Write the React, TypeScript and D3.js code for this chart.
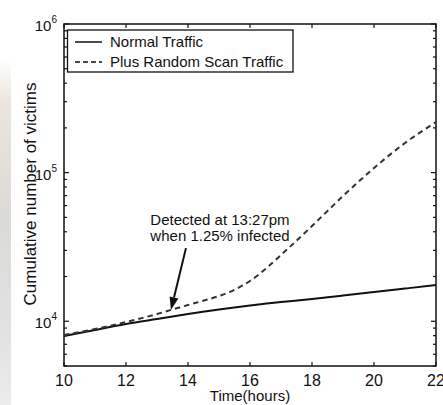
import React from "react";
import * as d3 from "d3";

// hours of the day
const hours = [10, 11, 12, 13, 14, 15, 16, 17, 18, 19, 20, 21, 22];
// cumulative victims, normal traffic
const normalTraffic = [7950, 8730, 9570, 10340, 11180, 11990, 12760, 13470, 14100, 14890, 15710, 16590, 17520];
// cumulative victims, with random scan traffic
const scanTraffic = [8080, 8870, 9890, 11190, 12870, 14790, 18660, 27910, 43730, 69630, 107400, 158250, 219000];

const xTicks = [10, 12, 14, 16, 18, 20, 22];
const yMajor = [4, 5, 6];
const seriesNames = ["Normal Traffic", "Plus Random Scan Traffic"];

const detectHour = 13.45;
const detectValue = 11700;
const noteLines = ["Detected at 13:27pm", "when 1.25% infected"];

const W = 443;
const H = 405;
const m = { left: 64, right: 436, top: 24, bottom: 366 };
const font = "'Liberation Sans', Arial, sans-serif";

export default function App() {
  const x = d3.scaleLinear().domain([10, 22]).range([m.left, m.right]);
  const y = d3.scaleLog().domain([5000, 1e6]).range([m.bottom, m.top]);

  const line = d3
    .line<number>()
    .x((_, i) => x(hours[i]))
    .y((d) => y(d))
    .curve(d3.curveNatural);

  // minor ticks 2..9 for each decade inside the domain
  const minor: number[] = [];
  [3, 4, 5].forEach((e) => {
    for (let k = 2; k <= 9; k++) {
      const v = k * Math.pow(10, e);
      if (v >= 5000 && v < 1e6) minor.push(v);
    }
  });

  const tipX = x(detectHour);
  const tipY = y(detectValue) - 1;
  const tailX = tipX + 15;
  const tailY = tipY - 62;
  const ang = Math.atan2(tipY - tailY, tipX - tailX);
  const hl = 13;
  const hw = 4.5;
  const bx = tipX - hl * Math.cos(ang);
  const by = tipY - hl * Math.sin(ang);
  const head = [
    [tipX, tipY],
    [bx + hw * Math.sin(ang), by - hw * Math.cos(ang)],
    [bx - hw * Math.sin(ang), by + hw * Math.cos(ang)],
  ];

  return (
    <svg
      width={W}
      height={H}
      style={{ position: "absolute", left: 0, top: 0, background: "#fff" }}
      fontFamily={font}
    >
      <defs>
        <linearGradient id="strip" x1="0" y1="0" x2="0" y2="1">
          <stop offset="0" stopColor="#ffffff" />
          <stop offset="0.12" stopColor="#ebe5dc" />
          <stop offset="0.45" stopColor="#dcdad6" />
          <stop offset="0.8" stopColor="#e2e2e2" />
          <stop offset="1" stopColor="#ececec" />
        </linearGradient>
      </defs>
      <rect x={0} y={60} width={11} height={H - 60} fill="url(#strip)" />

      {/* frame */}
      <rect
        x={m.left}
        y={m.top}
        width={m.right - m.left}
        height={m.bottom - m.top}
        fill="none"
        stroke="#111"
        strokeWidth={1.5}
      />

      {/* x ticks */}
      {xTicks.map((t) => (
        <g key={"x" + t}>
          <line x1={x(t)} x2={x(t)} y1={m.bottom} y2={m.bottom - 4} stroke="#111" strokeWidth={1.2} />
          <line x1={x(t)} x2={x(t)} y1={m.top} y2={m.top + 4} stroke="#111" strokeWidth={1.2} />
          <text x={x(t)} y={m.bottom + 20} textAnchor="middle" fontSize={16} fill="#111">
            {t}
          </text>
        </g>
      ))}

      {/* y ticks */}
      {minor.map((v) => (
        <g key={"m" + v}>
          <line x1={m.left} x2={m.left + 3} y1={y(v)} y2={y(v)} stroke="#111" strokeWidth={1.2} />
          <line x1={m.right} x2={m.right - 3} y1={y(v)} y2={y(v)} stroke="#111" strokeWidth={1.2} />
        </g>
      ))}
      {yMajor.map((e) => (
        <g key={"y" + e}>
          <line x1={m.left} x2={m.left + 5} y1={y(Math.pow(10, e))} y2={y(Math.pow(10, e))} stroke="#111" strokeWidth={1.2} />
          <line x1={m.right} x2={m.right - 5} y1={y(Math.pow(10, e))} y2={y(Math.pow(10, e))} stroke="#111" strokeWidth={1.2} />
          <text x={m.left - 7} y={y(Math.pow(10, e)) + 7} textAnchor="end" fontSize={15} fill="#111">
            10
            <tspan fontSize={10} dy={-8}>
              {e}
            </tspan>
          </text>
        </g>
      ))}

      {/* series */}
      <path d={line(normalTraffic) || ""} fill="none" stroke="#111" strokeWidth={2} />
      <path
        d={line(scanTraffic) || ""}
        fill="none"
        stroke="#333"
        strokeWidth={2}
        strokeDasharray="5.5,4"
      />

      {/* annotation */}
      {noteLines.map((s, i) => (
        <text key={s} x={220} y={225 + i * 16} textAnchor="middle" fontSize={15} fill="#111">
          {s}
        </text>
      ))}
      <line x1={tailX} y1={tailY} x2={bx} y2={by} stroke="#111" strokeWidth={2} />
      <polygon points={head.map((p) => p.join(",")).join(" ")} fill="#111" />

      {/* legend */}
      <rect x={67.5} y={30} width={225.5} height={42} fill="#fff" stroke="#111" strokeWidth={1.3} />
      {seriesNames.map((s, i) => (
        <g key={s}>
          <line
            x1={75}
            x2={102}
            y1={42 + i * 20}
            y2={42 + i * 20}
            stroke="#111"
            strokeWidth={1.5}
            strokeDasharray={i === 1 ? "5,3" : undefined}
          />
          <text x={110} y={47 + i * 20} fontSize={15} fill="#111">
            {s}
          </text>
        </g>
      ))}

      {/* axis titles */}
      <text x={250} y={401} textAnchor="middle" fontSize={15} fill="#111">
        Time(hours)
      </text>
      <text
        transform={`translate(36,194) rotate(-90)`}
        textAnchor="middle"
        fontSize={17}
        fill="#111"
      >
        Cumulative number of victims
      </text>
    </svg>
  );
}
